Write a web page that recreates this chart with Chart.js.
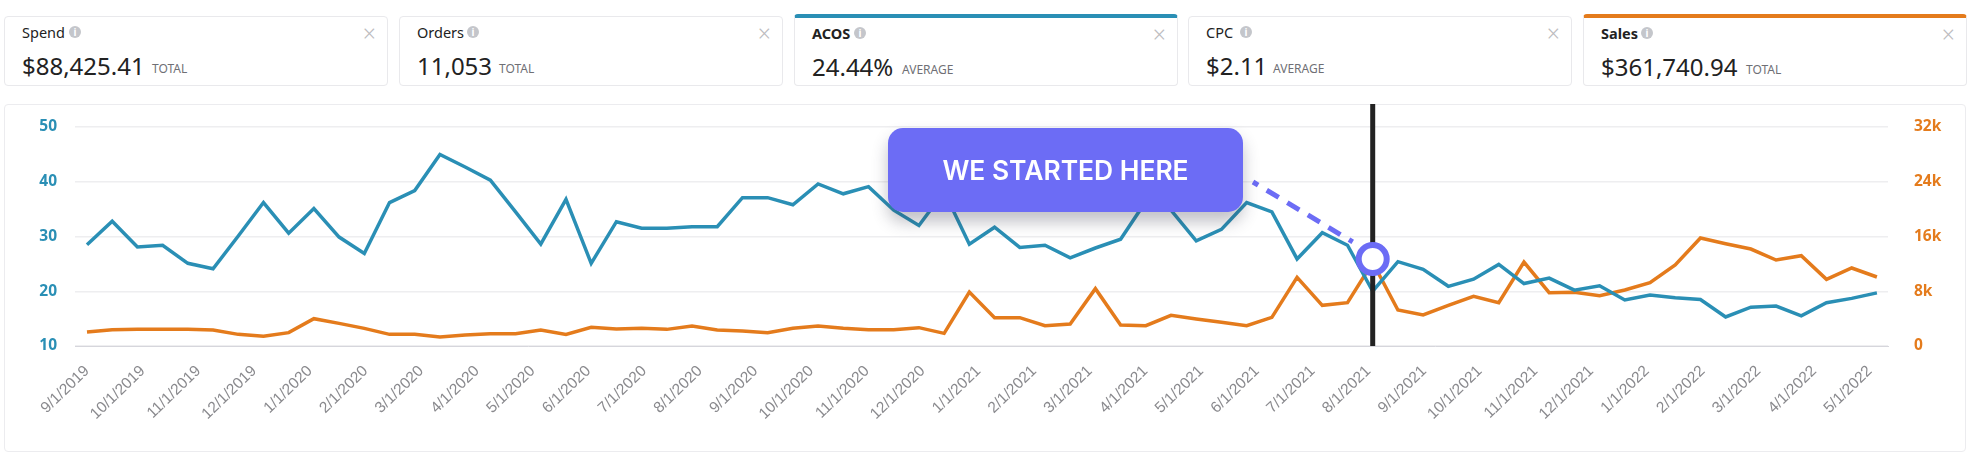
<!DOCTYPE html>
<html>
<head>
<meta charset="utf-8">
<style>
  html, body { margin: 0; padding: 0; background: #fff; }
  body { width: 1970px; height: 464px; position: relative; overflow: hidden; font-family: "Noto Sans", sans-serif; color: #222; }
  .card { position: absolute; top: 16px; height: 68px; width: 382px; border: 1px solid #e9e9ec; border-radius: 4px; box-sizing: content-box; }
  .card.blue { border-top: 4px solid #2a8fb5; top: 14px; height: 67px; }
  .card.orange { border-top: 4px solid #e47b1c; top: 14px; height: 67px; }
  .card span { position: absolute; white-space: nowrap; }
  .name { left: 17px; top: 5px; font-size: 14.5px; line-height: 20px; }
  .active .name { font-weight: 700; }
  .info { top: 9px; width: 12px; height: 12px; border-radius: 50%; background: #c4c6cb; color: #fff; font-size: 10px; line-height: 12px; text-align: center; font-weight: 700; }
  .close { right: 11px; top: 4px; font-size: 23px; line-height: 24px; color: #bcbcc0; font-weight: 300; }
  .value { left: 17px; top: 32px; font-size: 24px; line-height: 34px; }
  .unit { top: 44px; font-size: 12px; line-height: 16px; color: #6f6f75; }
  .chart-box { position: absolute; left: 4px; top: 104px; width: 1960px; height: 346px; border: 1px solid #ececef; border-radius: 4px; }
  canvas { position: absolute; left: 0; top: 0; }
  .callout { position: absolute; left: 888px; top: 128px; width: 355px; height: 84px; background: #6c6cf5; border-radius: 15px; color: #fff;
    font-family: Inter, sans-serif; font-weight: 600; font-size: 26.4px; line-height: 84px; text-align: center; box-shadow: 0 10px 16px rgba(50, 50, 70, 0.3); }
</style>
</head>
<body>
<div class="card" style="left:4px"><span class="name">Spend</span><span class="info" style="left:64px">i</span><span class="close">×</span><span class="value">$88,425.41</span><span class="unit" style="left:147px">TOTAL</span></div>
<div class="card" style="left:399px"><span class="name">Orders</span><span class="info" style="left:67px">i</span><span class="close">×</span><span class="value">11,053</span><span class="unit" style="left:99px">TOTAL</span></div>
<div class="card blue active" style="left:794px"><span class="name">ACOS</span><span class="info" style="left:59px">i</span><span class="close">×</span><span class="value">24.44%</span><span class="unit" style="left:107px">AVERAGE</span></div>
<div class="card" style="left:1188px"><span class="name">CPC</span><span class="info" style="left:51px">i</span><span class="close">×</span><span class="value">$2.11</span><span class="unit" style="left:84px">AVERAGE</span></div>
<div class="card orange active" style="left:1583px"><span class="name">Sales</span><span class="info" style="left:57px">i</span><span class="close">×</span><span class="value">$361,740.94</span><span class="unit" style="left:162px">TOTAL</span></div>
<div class="chart-box"></div>
<canvas id="chart" width="1970" height="464"></canvas>
<div class="callout">WE STARTED HERE</div>

<script src="https://cdn.jsdelivr.net/npm/chart.js@4"></script>
<script>
const tickLabels = ['9/1/2019','10/1/2019','11/1/2019','12/1/2019','1/1/2020','2/1/2020','3/1/2020','4/1/2020','5/1/2020','6/1/2020','7/1/2020','8/1/2020','9/1/2020','10/1/2020','11/1/2020','12/1/2020','1/1/2021','2/1/2021','3/1/2021','4/1/2021','5/1/2021','6/1/2021','7/1/2021','8/1/2021','9/1/2021','10/1/2021','11/1/2021','12/1/2021','1/1/2022','2/1/2022','3/1/2022','4/1/2022','5/1/2022'];
const acosValues = [28.5,32.8,28.1,28.4,25.1,24.1,30.1,36.2,30.6,35.1,29.9,26.9,36.2,38.4,45.0,42.7,40.3,34.5,28.6,36.8,25.1,32.7,31.5,31.5,31.8,31.8,37.1,37.1,35.8,39.6,37.8,39.1,34.8,32.0,38.2,28.6,31.7,28.0,28.4,26.1,27.9,29.5,36.4,34.8,29.2,31.3,36.2,34.5,25.9,30.7,28.4,20.0,25.4,24.0,20.9,22.2,24.9,21.4,22.4,20.2,21.0,18.4,19.3,18.8,18.5,15.3,17.1,17.3,15.5,17.9,18.7,19.7];
const salesValues = [2050,2390,2430,2430,2430,2340,1700,1410,1950,3990,3310,2580,1700,1700,1310,1600,1800,1800,2340,1700,2730,2480,2580,2430,2920,2340,2190,1950,2580,2920,2580,2390,2390,2680,1850,7890,4140,4140,2970,3210,8380,3070,2970,4480,3940,3460,2970,4190,10030,5940,6330,12200,5260,4530,5940,7260,6330,12270,7790,7840,7350,8180,9250,11830,15780,14950,14170,12560,13200,9740,11400,10080];
const startedIndex = 51;
const startedAcos = 25.9;

const blue = '#2a8fb5';
const orange = '#e47b1c';
const purple = '#6c6cf5';
// month ticks are evenly spaced in the picture, a bit over 2 points apart
const monthStep = 2.21;

const tickFont = { family: '"Noto Sans"', size: 15.5, weight: '700' };

function toPoints(values) {
  return values.map((v, i) => ({ x: i, y: v }));
}

// black marker, pointer and ring around the start point
const startMarker = {
  id: 'startMarker',
  afterDatasetsDraw(chart) {
    const ctx = chart.ctx;
    const x = chart.scales.x.getPixelForValue(startedIndex);
    const y = chart.scales.y.getPixelForValue(startedAcos);
    ctx.save();
    ctx.strokeStyle = '#222';
    ctx.lineWidth = 5;
    ctx.beginPath();
    ctx.moveTo(x, 104);
    ctx.lineTo(x, chart.chartArea.bottom);
    ctx.stroke();

    ctx.strokeStyle = purple;
    ctx.setLineDash([14, 10]);
    ctx.lineDashOffset = 8;
    ctx.beginPath();
    ctx.moveTo(1253, 182);
    ctx.lineTo(x - 20, y - 17);
    ctx.stroke();
    ctx.setLineDash([]);

    ctx.fillStyle = '#fff';
    ctx.lineWidth = 6;
    ctx.beginPath();
    ctx.arc(x, y, 14, 0, Math.PI * 2);
    ctx.fill();
    ctx.stroke();
    ctx.restore();
  }
};

new Chart(document.getElementById('chart'), {
  type: 'line',
  data: {
    datasets: [
      { label: 'ACOS', data: toPoints(acosValues), yAxisID: 'y', borderColor: blue, borderWidth: 3.5, pointRadius: 0, tension: 0 },
      { label: 'Sales', data: toPoints(salesValues), yAxisID: 'y1', borderColor: orange, borderWidth: 3.5, pointRadius: 0, tension: 0 }
    ]
  },
  options: {
    responsive: false,
    animation: false,
    layout: { padding: { top: 127, left: 0, right: 0, bottom: 0 } },
    plugins: { legend: { display: false }, tooltip: { enabled: false } },
    scales: {
      x: {
        type: 'linear',
        min: -0.476,
        max: 71.44,
        afterFit(scale) { scale.height = 118; },
        afterBuildTicks(scale) {
          scale.ticks = tickLabels.map((t, i) => ({ value: i * monthStep }));
        },
        grid: { display: false },
        border: { color: '#d6d6dc', width: 1 },
        ticks: {
          autoSkip: false,
          minRotation: 44,
          maxRotation: 44,
          padding: 8,
          color: '#8a8a8e',
          font: { family: '"Liberation Sans"', size: 15.5 },
          callback(value, index) { return tickLabels[index]; }
        }
      },
      y: {
        position: 'left',
        min: 10,
        max: 50,
        afterFit(scale) { scale.width = 75; },
        border: { display: false },
        grid: { color: '#eeeef0', lineWidth: 1.5, drawTicks: false },
        ticks: { stepSize: 10, padding: 18, color: blue, font: tickFont }
      },
      y1: {
        position: 'right',
        min: 0,
        max: 32000,
        afterFit(scale) { scale.width = 82; },
        border: { display: false },
        grid: { display: false },
        ticks: {
          stepSize: 8000,
          padding: 18,
          color: orange,
          font: tickFont,
          callback(value) { return value === 0 ? '0' : (value / 1000) + 'k'; }
        }
      }
    }
  },
  plugins: [startMarker]
});
</script>
</body>
</html>
